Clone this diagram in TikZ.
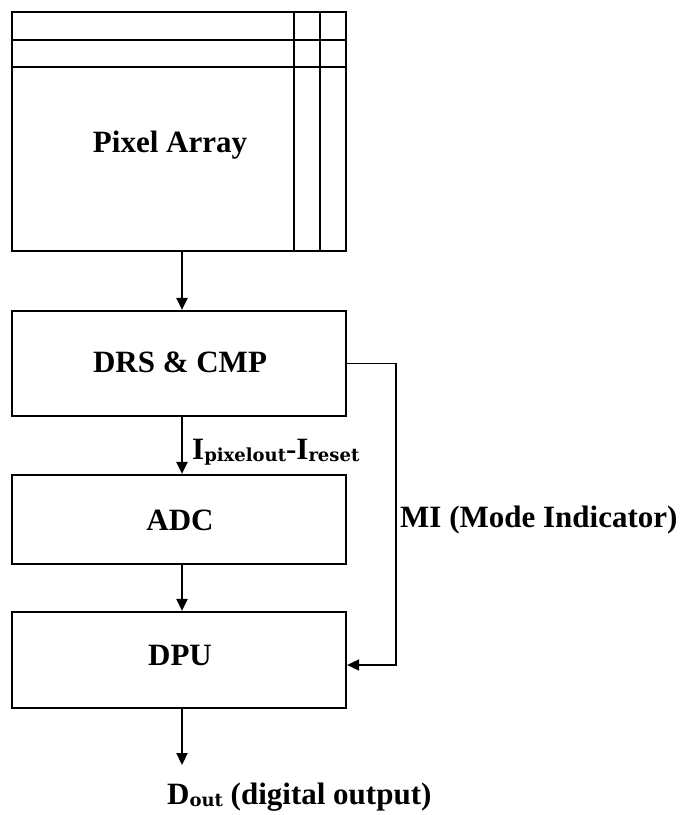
\documentclass[tikz,border=0pt]{standalone}
\usepackage{fontspec}
\setmainfont{Liberation Serif}
\newfontfamily\subfont{DejaVu Serif}
\usetikzlibrary{arrows.meta}
\newcommand{\lowsub}[1]{\raisebox{-2pt}{\fontsize{18}{20}\selectfont\subfont\bfseries #1}}
\tikzset{
  blk/.style={draw, line width=2.2pt, minimum width=334pt, inner sep=0pt},
  lbl/.style={font=\fontsize{31}{36}\selectfont\bfseries, inner sep=0pt},
  arr/.style={line width=2.2pt, -{Triangle[length=12pt,width=11pt]}},
  wire/.style={line width=2.2pt}
}
\begin{document}
\begin{tikzpicture}[x=1pt, y=-1pt]
\useasboundingbox[fill=white] (0,0) rectangle (683,815);

% pixel array with its row and column lines
\node[blk, minimum height=239pt] (pa) at (179,131.5) {};
\draw[wire] ([yshift=-29pt]pa.north west) -- ([yshift=-29pt]pa.north east);
\draw[wire] ([yshift=-56pt]pa.north west) -- ([yshift=-56pt]pa.north east);
\draw[wire] ([xshift=-53pt]pa.north east) -- ([xshift=-53pt]pa.south east);
\draw[wire] ([xshift=-27pt]pa.north east) -- ([xshift=-27pt]pa.south east);
\node[lbl] (palabel) at (170,145) {Pixel Array};

% processing chain
\node[blk, minimum height=105pt] (drs) at (179,363.5) {};
\node[lbl] (drslabel) at (180,362) {DRS \& CMP};
\node[blk, minimum height=89pt] (adc) at (179,519.5) {};
\node[lbl] (adclabel) at (180,520) {ADC};
\node[blk, minimum height=96pt] (dpu) at (179,660) {};
\node[lbl] (dpulabel) at (180,655) {DPU};

% vertical connectors
\draw[arr] ([xshift=3pt]pa.south) -- ([xshift=3pt]drs.north);
\draw[arr] ([xshift=3pt]drs.south) -- ([xshift=3pt]adc.north);
\draw[arr] ([xshift=3pt]adc.south) -- ([xshift=3pt]dpu.north);
\node[lbl, anchor=west] (ilabel) at (192,452) {I\lowsub{pixelout}-I\lowsub{reset}};

% mode indicator feedback path (a slightly finer line)
\coordinate (mi) at (396,0);
\draw[arr, line width=1.7pt] (drs.east) -- (drs.east -| mi) |- ([yshift=-5pt]dpu.east);
\node[lbl, anchor=west] (milabel) at (400,520) {MI (Mode Indicator)};

% digital output
\coordinate (dout) at (182,765);
\draw[arr] ([xshift=3pt]dpu.south) -- (dout);
\node[lbl, anchor=west] (doutlabel) at (167,797) {D\lowsub{out} (digital output)};
\end{tikzpicture}
\end{document}
